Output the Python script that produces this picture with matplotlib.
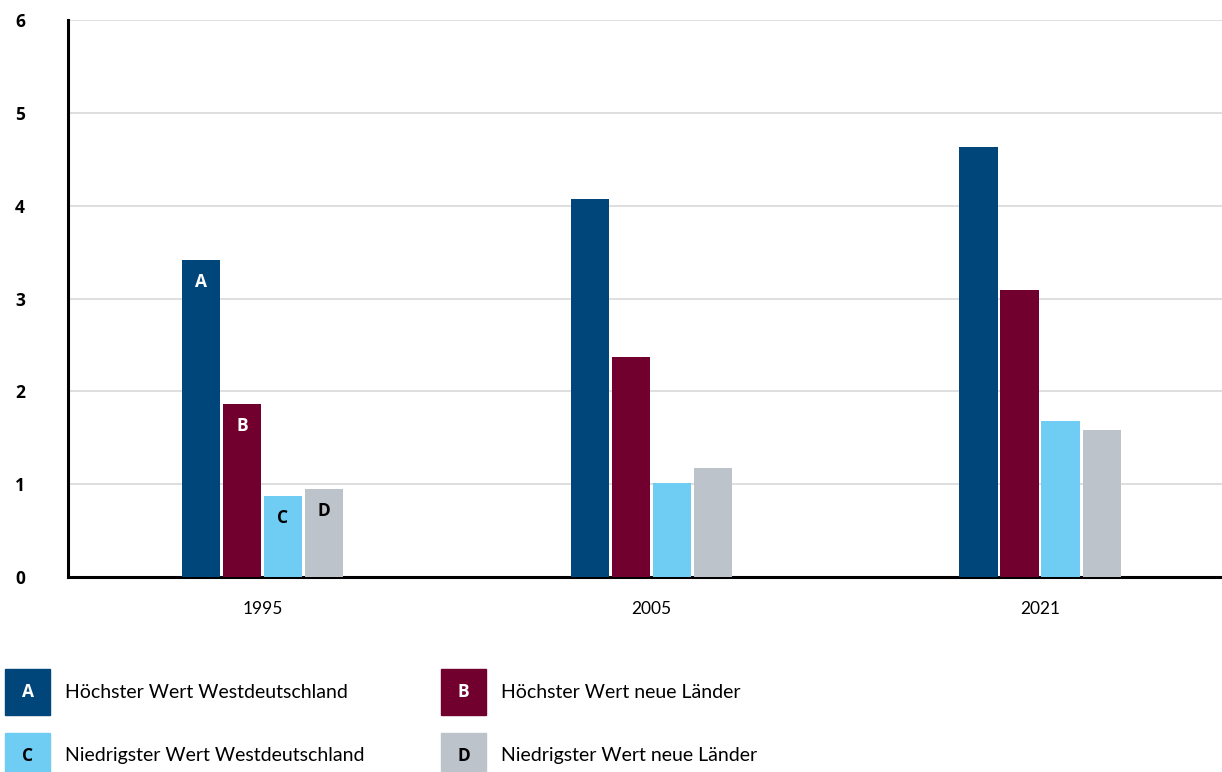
import matplotlib.pyplot as plt
import numpy as np
from matplotlib.patches import Rectangle

plt.rcParams['font.family'] = ['Lato', 'DejaVu Sans']

years = ["1995", "2005", "2021"]
hoechst_west = [3.41, 4.07, 4.63]
hoechst_ost = [1.86, 2.37, 3.09]
niedrig_west = [0.87, 1.01, 1.68]
niedrig_ost = [0.95, 1.17, 1.58]

letters = ["A", "B", "C", "D"]
names = ["Höchster Wert Westdeutschland", "Höchster Wert neue Länder",
         "Niedrigster Wert Westdeutschland", "Niedrigster Wert neue Länder"]
colors = ["#00467A", "#72002F", "#6FCDF4", "#BDC3CA"]
letter_colors = ["white", "white", "black", "black"]

series = [hoechst_west, hoechst_ost, niedrig_west, niedrig_ost]

fig = plt.figure(figsize=(12.22, 7.72), dpi=100)
ax = fig.add_axes([68/1222, 1-577/772, 1-68/1222, 557/772])

x = np.arange(len(years))
w = 0.098
step = 0.1055
for i, vals in enumerate(series):
    pos = x + (i - 1.5) * step
    ax.bar(pos, vals, width=w, color=colors[i], zorder=3)
    # letter inside the 1995 bar
    ax.annotate(letters[i], (pos[0], vals[0]), xytext=(0, -22),
                textcoords="offset pixels", ha="center", va="center",
                fontsize=12.5, fontweight="bold", family="Open Sans",
                color=letter_colors[i], zorder=4)

ax.set_xlim(-0.5, 2.468)
ax.set_ylim(0, 6)
ax.set_yticks(range(7))
ax.set_yticklabels([str(v) for v in range(7)], fontweight="bold", fontsize=12.5,
                   family="Open Sans")
ax.set_xticks(x)
ax.set_xticklabels(years, fontsize=12.5)
ax.tick_params(axis="x", length=0, pad=17)
for lab in ax.get_yticklabels():
    lab.set_horizontalalignment("left")
ax.tick_params(axis="y", length=0, pad=38)

ax.grid(axis="y", color="#d9d9d9", linewidth=1.2, zorder=0)
ax.spines["top"].set_visible(False)
ax.spines["right"].set_visible(False)
ax.spines["left"].set_linewidth(2.2)
ax.spines["bottom"].set_linewidth(2.2)

# legend with letter boxes
box_pos = [(5, 669), (441, 669), (5, 733), (441, 733)]
for i in range(4):
    bx, by = box_pos[i]
    fig.patches.append(Rectangle((bx/1222, 1-(by+46)/772), 45/1222, 46/772,
                                 transform=fig.transFigure, color=colors[i]))
    fig.text((bx+22.5)/1222, 1-(by+23)/772, letters[i], ha="center", va="center",
             fontsize=12.5, fontweight="bold", family="Open Sans",
             color=letter_colors[i])
    fig.text((bx+60)/1222, 1-(by+23)/772, names[i], ha="left", va="center",
             fontsize=14)

fig.savefig("out.png", dpi=100)
